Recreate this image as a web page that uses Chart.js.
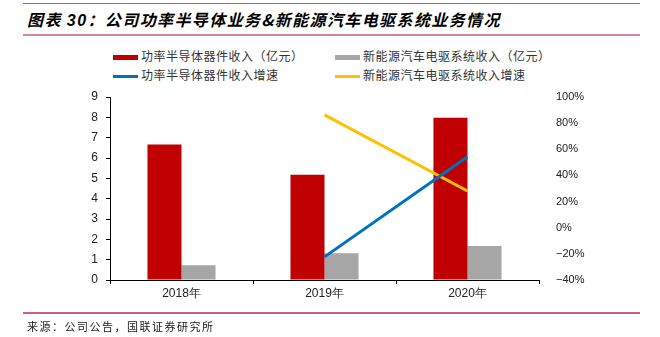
<!DOCTYPE html>
<html>
<head>
<meta charset="utf-8">
<script src="https://cdn.jsdelivr.net/npm/chart.js@4"></script>
<style>
  body { margin: 0; background: #fff; font-family: "Noto Sans CJK SC", sans-serif; }
  #wrap { position: relative; width: 660px; height: 337px; overflow: hidden; }
  #chart { position: absolute; left: 0; top: 0; }
  .rule { position: absolute; left: 23px; width: 617px; }
  #title { position: absolute; left: 27px; top: 7px; font-size: 16px; letter-spacing: 1.4px; font-weight: bold; font-style: italic; color: #000; white-space: nowrap; }
  #title .num { font-family: "Liberation Sans", sans-serif; }
  .lg { position: absolute; font-size: 12px; letter-spacing: 0.5px; color: #333; white-space: nowrap; line-height: 14px; }
  .sw { display: inline-block; width: 25px; vertical-align: middle; margin-right: 3px; }
  #src { position: absolute; left: 27px; top: 318px; font-size: 11px; letter-spacing: 1.5px; color: #222; white-space: nowrap; }
</style>
</head>
<body>
<div id="wrap">
  <div class="rule" style="top:3px;height:1px;background:#c8566b;"></div>
  <div id="title">图表 <span class="num">30</span>：公司功率半导体业务&amp;新能源汽车电驱系统业务情况</div>
  <div class="rule" style="top:34px;height:2px;background:#d98595;"></div>
  <div class="lg" style="left:113px;top:49px;"><span class="sw" style="height:5px;background:#c00000;"></span>功率半导体器件收入（亿元）</div>
  <div class="lg" style="left:335px;top:49px;"><span class="sw" style="height:5px;background:#a6a6a6;"></span>新能源汽车电驱系统收入（亿元）</div>
  <div class="lg" style="left:113px;top:68px;"><span class="sw" style="height:3px;background:#0070c0;"></span>功率半导体器件收入增速</div>
  <div class="lg" style="left:335px;top:68px;"><span class="sw" style="height:3px;background:#ffc000;"></span>新能源汽车电驱系统收入增速</div>
  <canvas id="chart" width="660" height="337"></canvas>
  <div class="rule" style="top:312px;height:2px;background:#d06078;"></div>
  <div id="src">来源：公司公告，国联证券研究所</div>
</div>
<script>
const years = ['2018年', '2019年', '2020年'];
const powerRevenue = [6.67, 5.18, 7.98];
const driveRevenue = [0.72, 1.31, 1.67];
const powerGrowth = [null, -22.3, 54.3];
const driveGrowth = [null, 86.3, 28.1];

const seriesNames = ['功率半导体器件收入（亿元）', '新能源汽车电驱系统收入（亿元）', '功率半导体器件收入增速', '新能源汽车电驱系统收入增速'];

const numFont = { family: '"Liberation Sans", Arial, sans-serif', size: 12 };

new Chart(document.getElementById('chart'), {
  type: 'bar',
  data: {
    labels: years,
    datasets: [
      { label: seriesNames[2], type: 'line', data: powerGrowth, yAxisID: 'y1', borderColor: '#0070c0', borderWidth: 3, pointRadius: 0, order: 0 },
      { label: seriesNames[3], type: 'line', data: driveGrowth, yAxisID: 'y1', borderColor: '#ffc000', borderWidth: 3, pointRadius: 0, order: 0 },
      { label: seriesNames[0], data: powerRevenue, backgroundColor: '#c00000', yAxisID: 'y', order: 1 },
      { label: seriesNames[1], data: driveRevenue, backgroundColor: '#a6a6a6', yAxisID: 'y', order: 1 }
    ]
  },
  options: {
    responsive: false,
    animation: false,
    barPercentage: 1,
    categoryPercentage: 0.476,
    layout: { padding: { left: 78, top: 97, right: 0, bottom: 37 } },
    plugins: { legend: { display: false }, tooltip: { enabled: false } },
    scales: {
      x: {
        grid: { display: true, drawOnChartArea: false, color: '#000', tickLength: 4, offset: true },
        border: { color: '#000', width: 1 },
        ticks: { color: '#222', font: numFont, padding: 2 },
        afterFit: s => { s.height = 20; }
      },
      y: {
        position: 'left',
        min: 0, max: 9,
        grid: { display: true, drawOnChartArea: false, color: '#000', tickLength: 4 },
        border: { color: '#000', width: 1 },
        ticks: { stepSize: 1, color: '#222', font: numFont, padding: 8 },
        afterFit: s => { s.width = 32; }
      },
      y1: {
        position: 'right',
        min: -40, max: 100,
        grid: { display: false },
        border: { display: false },
        ticks: { stepSize: 20, color: '#222', font: { family: '"Liberation Sans", Arial, sans-serif', size: 11 }, padding: 9,
          callback: v => (v < 0 ? '\u2212' + Math.abs(v) : v) + '%' },
        afterFit: s => { s.width = 121; }
      }
    }
  }
});
</script>
</body>
</html>
